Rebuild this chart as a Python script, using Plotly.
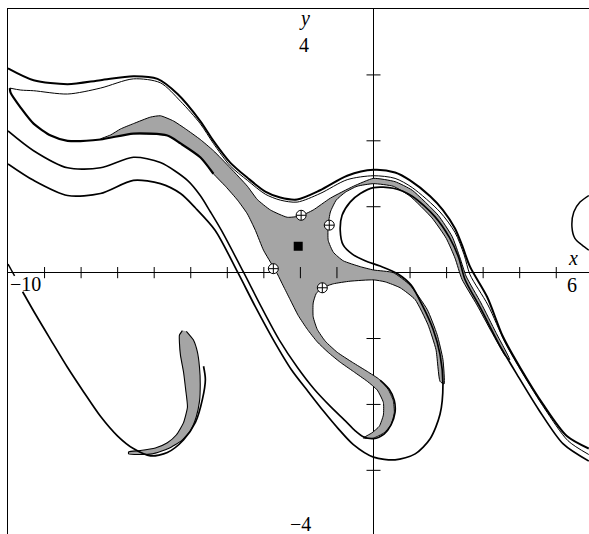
import plotly.graph_objects as go

# ---- traced curves (data units) ----
# outermost upper curve, from the left edge over the hump and down the right side
outer_x = [-10.00, -9.30, -8.37, -7.47, -6.57, -5.91, -5.36, -4.74, -4.38, -3.92, -3.45, -2.96, -2.55, -2.09,
           -1.46, -0.72, 0.00, 0.59, 1.00, 1.55, 1.90, 2.23, 2.42, 2.64, 3.11, 3.54, 4.01, 4.64, 5.29, 5.89]
outer_y = [3.10, 2.92, 2.86, 2.92, 2.98, 2.94, 2.71, 2.30, 2.00, 1.67, 1.44, 1.23, 1.14, 1.11,
           1.25, 1.47, 1.56, 1.52, 1.40, 1.16, 0.95, 0.67, 0.42, 0.09, -0.37, -0.97, -1.44, -2.00, -2.48, -2.67]

# thin curve running from the tongue tip just under the outer curve
inner_x = [-9.95, -9.65, -9.30, -8.37, -7.47, -6.57, -5.83, -5.28, -4.74, -4.38, -3.92, -3.45, -2.96, -2.55,
           -2.09, -1.46, -0.72, 0.00, 0.59, 1.06, 1.82, 2.23, 2.48, 2.64, 3.13, 3.60, 4.09, 4.69, 5.32, 5.89]
inner_y = [2.80, 2.77, 2.76, 2.71, 2.80, 2.94, 2.88, 2.60, 2.26, 1.96, 1.62, 1.40, 1.19, 1.10,
           1.07, 1.20, 1.41, 1.47, 1.43, 1.29, 0.92, 0.61, 0.27, -0.03, -0.49, -1.06, -1.54, -2.07, -2.55, -2.76]

# heavy lower edge of the tongue, from its tip
tongue_x = [-9.95, -9.93, -9.65, -9.30, -8.83, -8.37, -7.47, -6.57, -5.64, -5.28, -4.74, -4.38]
tongue_y = [2.80, 2.73, 2.50, 2.26, 2.08, 2.00, 2.02, 2.11, 2.08, 1.96, 1.75, 1.50]

# shaded region boundary, in four pieces
ridge_x = [-7.47, -7.19, -6.92, -6.57, -6.10, -5.83, -5.47, -5.14, -4.74, -4.38, -3.92, -3.45, -3.18, -2.82,
           -2.36, -2.00, -1.65, -1.18, -0.55, 0.00, 0.59, 1.06, 1.77, 2.15, 2.37, 2.53, 2.94, 3.35, 3.73]
ridge_y = [2.03, 2.09, 2.18, 2.26, 2.36, 2.38, 2.30, 2.18, 2.02, 1.85, 1.59, 1.31, 1.11, 0.95,
           0.84, 0.86, 0.95, 1.13, 1.31, 1.43, 1.38, 1.25, 0.87, 0.55, 0.22, -0.05, -0.46, -0.91, -1.32]

arm_x = [3.60, 3.24, 2.83, 2.42, 2.23, 1.99, 1.60, 1.00, 0.54, 0.00, -0.45, -0.77, -1.02, -1.18, -1.24, -1.24,
         -1.10, -0.83, -0.36, 0.00, 0.54, 1.00, 1.47, 1.74, 1.90, 1.93, 1.82, 1.71, 1.49, 1.14, 0.73, 0.32,
         0.00, -0.64, -1.10, -1.40]
arm_y = [-1.26, -0.91, -0.49, -0.10, 0.22, 0.52, 0.83, 1.16, 1.31, 1.35, 1.31, 1.22, 1.10, 0.92, 0.72, 0.49,
         0.31, 0.18, 0.09, 0.04, 0.00, -0.19, -0.56, -0.94, -1.32, -1.69, -1.65, -1.17, -0.79, -0.41, -0.23, -0.14,
         -0.11, -0.13, -0.17, -0.23]

hook_out_x = [-1.57, -1.65, -1.65, -1.54, -1.32, -0.99, -0.58, -0.17, 0.16, 0.40, 0.54, 0.57, 0.48, 0.29,
              0.00, -0.28]
hook_out_y = [-0.32, -0.46, -0.67, -0.86, -1.04, -1.21, -1.36, -1.50, -1.62, -1.77, -1.94, -2.12, -2.31, -2.43,
              -2.51, -2.51]

flank_x = [-0.04, 0.16, 0.27, 0.27, 0.10, -0.17, -0.55, -0.91, -1.24, -1.54, -1.81, -2.06, -2.28, -2.47,
           -2.63, -2.82, -3.01, -3.23, -3.45, -3.72, -4.05, -4.38, -4.74, -5.28, -5.64, -6.57]
flank_y = [-2.43, -2.33, -2.16, -1.97, -1.78, -1.65, -1.50, -1.36, -1.21, -1.05, -0.86, -0.65, -0.41, -0.20,
           -0.02, 0.16, 0.34, 0.64, 0.89, 1.10, 1.31, 1.50, 1.75, 1.96, 2.08, 2.11]

# pair of curves from the left edge down to the bottom loops
pair_in_x = [-10.00, -9.30, -8.37, -7.47, -6.57, -5.83, -5.09, -4.74, -4.46, -4.16, -3.56, -3.07, -2.58,
             -2.08, -1.62, -1.18, -0.77, -0.50, -0.28, 0.00, 0.29, 0.48, 0.59, 0.57, 0.43, 0.18]
pair_in_y = [2.15, 1.85, 1.59, 1.59, 1.75, 1.67, 1.40, 1.17, 0.92, 0.64, 0.01, -0.52, -1.02,
             -1.44, -1.77, -2.03, -2.25, -2.40, -2.49, -2.52, -2.45, -2.31, -2.12, -1.94, -1.77, -1.63]

loop_x = [-10.00, -9.30, -8.37, -7.47, -6.57, -5.83, -5.28, -4.87, -4.33, -3.72, -3.23, -2.74, -2.25, -1.78,
          -1.37, -0.96, -0.55, 0.00, 0.59, 1.14, 1.55, 1.82, 1.90, 1.82, 1.63, 1.33, 1.03, 0.67, 0.18, -0.23,
          -0.58, -0.83, -0.91, -0.86, -0.64, -0.36, 0.00, 0.54, 1.06, 1.68, 2.08, 2.33, 2.50, 2.94, 3.43,
          3.92, 4.52, 5.19, 5.89]
loop_y = [1.65, 1.40, 1.17, 1.20, 1.40, 1.35, 1.20, 0.98, 0.64, 0.01, -0.52, -1.02, -1.47, -1.81,
          -2.10, -2.37, -2.61, -2.80, -2.84, -2.75, -2.52, -2.15, -1.69, -1.24, -0.86, -0.49, -0.19, -0.02, 0.10, 0.18,
          0.28, 0.42, 0.64, 0.87, 1.07, 1.20, 1.29, 1.28, 1.16, 0.85, 0.53, 0.23, -0.10, -0.55, -1.08,
          -1.54, -2.08, -2.60, -2.86]

# lower-left crescent and the long curve around it
crescent_x = [-5.12, -4.93, -4.82, -4.76, -4.74, -4.76, -4.85, -5.01, -5.25, -5.61, -6.05, -6.43, -6.70,
              -6.70, -6.38, -5.97, -5.64, -5.39, -5.20, -5.09, -5.14, -5.20, -5.28, -5.31, -5.31, -5.23]
crescent_y = [-0.89, -1.02, -1.20, -1.44, -1.69, -1.95, -2.19, -2.40, -2.55, -2.67, -2.75, -2.76, -2.75,
              -2.72, -2.70, -2.66, -2.58, -2.46, -2.28, -2.04, -1.77, -1.50, -1.26, -1.06, -0.95, -0.88]

sweep_x = [-9.60, -9.24, -8.83, -8.37, -7.93, -7.47, -7.00, -6.57, -6.10, -5.64, -5.20, -4.87, -4.68, -4.60, -4.65]
sweep_y = [-0.29, -0.64, -1.02, -1.44, -1.81, -2.18, -2.48, -2.67, -2.78, -2.73, -2.54, -2.27, -1.92, -1.62, -1.42]

stub_x = [-10.00, -9.82]
stub_y = [0.13, -0.05]

# partial loop at the right edge
edge_loop_x = [5.89, 5.65, 5.48, 5.43, 5.51, 5.70, 5.89]
edge_loop_y = [1.17, 1.07, 0.92, 0.69, 0.52, 0.42, 0.34]

# fixed points
saddle_x = [-1.98, -1.21, -2.74, -1.40]
saddle_y = [0.87, 0.72, 0.06, -0.23]
focus_x = [-2.06]
focus_y = [0.40]

x_ticks = [-9, -8, -7, -6, -5, -4, -3, -2, -1, 1, 2, 3, 4, 5]
y_ticks = [-3, -2, -1, 1, 2, 3]

SHADE = "#a5a5a5"
INK = "black"

fig = go.Figure()


def curve(x, y, w, smooth=0.8):
    fig.add_trace(go.Scatter(x=x, y=y, mode="lines", hoverinfo="skip", showlegend=False,
                             line=dict(color=INK, width=w, shape="spline", smoothing=smooth)))


def patch(x, y, w, smooth):
    fig.add_trace(go.Scatter(x=x, y=y, mode="lines", fill="toself", fillcolor=SHADE,
                             hoverinfo="skip", showlegend=False,
                             line=dict(color=INK, width=w, shape="spline", smoothing=smooth)))


# shaded regions
patch(ridge_x + arm_x + hook_out_x + flank_x, ridge_y + arm_y + hook_out_y + flank_y, 1.0, 0.5)
patch(crescent_x, crescent_y, 1.1, 0.5)

# curves
curve(outer_x, outer_y, 2.0)
curve(inner_x, inner_y, 1.0)
curve(tongue_x, tongue_y, 2.2, 0.7)
curve(pair_in_x, pair_in_y, 1.6)
curve(loop_x, loop_y, 1.7)
curve(sweep_x, sweep_y, 1.7)
curve(stub_x, stub_y, 1.5)
curve(edge_loop_x, edge_loop_y, 1.5)

# axis tick marks through the origin
fig.add_trace(go.Scatter(x=x_ticks, y=[0] * len(x_ticks), mode="markers", hoverinfo="skip", showlegend=False,
                         marker=dict(symbol="line-ns", size=8, line=dict(color=INK, width=1))))
fig.add_trace(go.Scatter(x=[0] * len(y_ticks), y=y_ticks, mode="markers", hoverinfo="skip", showlegend=False,
                         marker=dict(symbol="line-ew", size=10, line=dict(color=INK, width=1))))

# fixed points
fig.add_trace(go.Scatter(x=saddle_x, y=saddle_y, mode="markers", hoverinfo="skip", showlegend=False,
                         marker=dict(symbol="circle-cross", size=10, color="white",
                                     line=dict(color=INK, width=1))))
fig.add_trace(go.Scatter(x=focus_x, y=focus_y, mode="markers", hoverinfo="skip", showlegend=False,
                         marker=dict(symbol="square", size=9, color=INK)))

FONT = dict(family="Liberation Serif, Times New Roman, serif", size=20, color=INK)
labels = [
    ("<i>y</i>", -1.90, 3.86),
    ("4", -1.90, 3.46),
    ("\u22124", -2.00, -3.82),
    ("<i>x</i>", 5.46, 0.22),
    ("6", 5.44, -0.19),
    ("\u221210", -9.51, -0.17),
]
for text, lx, ly in labels:
    fig.add_annotation(x=lx, y=ly, text=text, showarrow=False, font=FONT)

fig.update_layout(
    width=589, height=534, autosize=False,
    margin=dict(l=8, r=0, t=9, b=0),
    plot_bgcolor="white", paper_bgcolor="white",
    xaxis=dict(range=[-10, 5.896], showgrid=False, showticklabels=False, ticks="",
               zeroline=True, zerolinecolor=INK, zerolinewidth=1,
               showline=True, side="top", linecolor=INK, linewidth=1),
    yaxis=dict(range=[-3.966, 4.0], showgrid=False, showticklabels=False, ticks="",
               zeroline=True, zerolinecolor=INK, zerolinewidth=1,
               showline=True, linecolor=INK, linewidth=1),
)

fig.write_html("out.html")
